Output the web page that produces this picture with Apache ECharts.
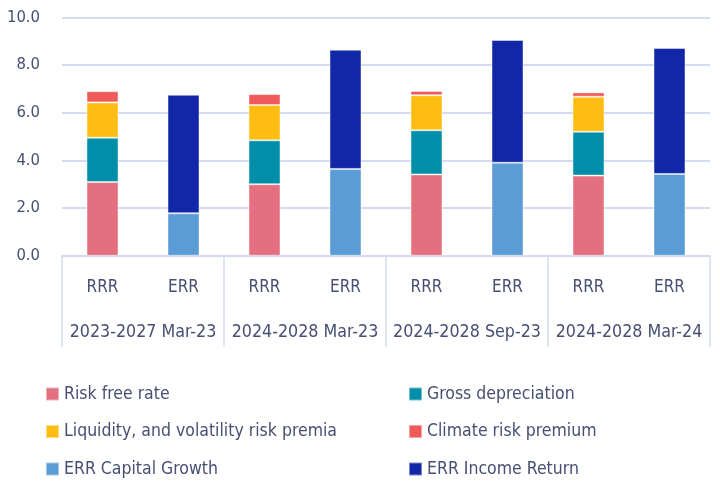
<!DOCTYPE html>
<html>
<head>
<meta charset="utf-8">
<script src="https://cdn.jsdelivr.net/npm/echarts@6/dist/echarts.min.js"></script>
<style>html,body{margin:0;padding:0;background:#fff}#c{width:720px;height:483px}</style>
</head>
<body>
<div id="c"></div>
<script>
const categories = ['RRR','ERR','RRR','ERR','RRR','ERR','RRR','ERR'];
const groups = ['2023-2027 Mar-23','2024-2028 Mar-23','2024-2028 Sep-23','2024-2028 Mar-24'];
const yTicks = [0, 2, 4, 6, 8, 10];
const riskFree = [3.09, '-', 3.00, '-', 3.41, '-', 3.36, '-'];
const grossDep = [1.86, '-', 1.84, '-', 1.85, '-', 1.84, '-'];
const liquidity = [1.48, '-', 1.48, '-', 1.47, '-', 1.47, '-'];
const climate = [0.47, '-', 0.46, '-', 0.18, '-', 0.18, '-'];
const capGrowth = ['-', 1.78, '-', 3.64, '-', 3.90, '-', 3.43];
const incomeRet = ['-', 4.97, '-', 5.00, '-', 5.15, '-', 5.28];

const names = ['Risk free rate','Gross depreciation','Liquidity, and volatility risk premia','Climate risk premium','ERR Capital Growth','ERR Income Return'];
const colors = ['#E4707F','#008EA8','#FDBD12','#F05A5A','#5B9BD6','#1226A8'];
const values = [riskFree, grossDep, liquidity, climate, capGrowth, incomeRet];

const txt = '#474F72';
const line = '#D4DBF0';
const fam = '"DejaVu Sans", sans-serif';
const st = 'condensed';

const chart = echarts.init(document.getElementById('c'), null, {renderer: 'canvas'});
chart.setOption({
  animation: false,
  backgroundColor: '#fff',
  color: colors,
  grid: {left: 62, right: 10, top: 17.3, bottom: 227.3, containLabel: false},
  xAxis: [
    {
      type: 'category', data: categories, position: 'bottom',
      axisLine: {show: true, lineStyle: {color: line, width: 2}},
      axisTick: {show: false},
      axisLabel: {color: txt, fontFamily: fam, fontWeight: st, fontSize: 17, margin: 23, interval: 0}
    },
    {
      type: 'category', data: groups, position: 'bottom',
      axisLine: {show: false},
      axisTick: {show: true, length: 91, interval: 0, lineStyle: {color: line, width: 1.5}},
      axisLabel: {color: txt, fontFamily: fam, fontWeight: st, fontSize: 17.7, margin: 68, interval: 0}
    }
  ],
  yAxis: {
    type: 'value', min: yTicks[0], max: yTicks[yTicks.length - 1], interval: 2,
    axisLine: {show: false}, axisTick: {show: false},
    splitLine: {lineStyle: {color: line, width: 2}},
    axisLabel: {color: txt, fontFamily: fam, fontWeight: st, fontSize: 16.5, margin: 22,
      formatter: v => v.toFixed(1)}
  },
  legend: [
    {
      orient: 'vertical', left: 45, top: 384, height: 120, padding: 0, itemWidth: 13, itemHeight: 13, itemGap: 17.5,
      icon: 'rect', data: [names[0], names[2], names[4]],
      textStyle: {color: txt, fontFamily: fam, fontWeight: st, fontSize: 17.5, lineHeight: 20}
    },
    {
      orient: 'vertical', left: 408, top: 384, height: 120, padding: 0, itemWidth: 13, itemHeight: 13, itemGap: 17.5,
      icon: 'rect', data: [names[1], names[3], names[5]],
      textStyle: {color: txt, fontFamily: fam, fontWeight: st, fontSize: 17.5, lineHeight: 20}
    }
  ],
  series: names.map((n, i) => ({
    name: n, type: 'bar', stack: 'total', barWidth: 32, xAxisIndex: 0,
    data: values[i],
    itemStyle: {color: colors[i], borderColor: 'rgba(255,255,255,0.45)', borderWidth: 1}
  }))
});
</script>
</body>
</html>
